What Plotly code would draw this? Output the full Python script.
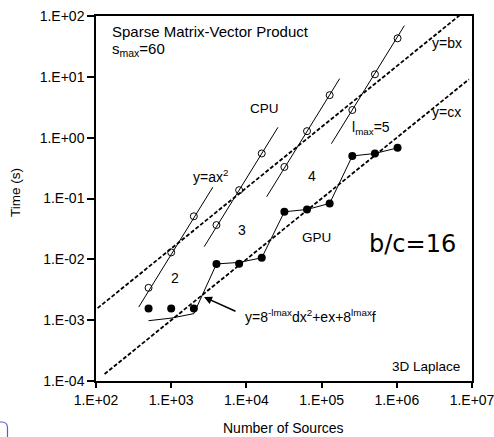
import plotly.graph_objects as go

# ---------------- data ----------------
n_sources = [500, 1000, 2000, 4000, 8000, 16000, 32000, 64000, 128000, 256000, 512000, 1024000]
cpu_time = [0.0034, 0.013, 0.051, 0.0366, 0.137, 0.55, 0.33, 1.28, 5.0, 2.85, 11.0, 43.0]
gpu_time = [0.00155, 0.00155, 0.00155, 0.0084, 0.0085, 0.0106, 0.0605, 0.066, 0.083, 0.50, 0.55, 0.68]
gpu_model = [0.00098, 0.00108, 0.00128, 0.0084, 0.0089, 0.0106, 0.0605, 0.066, 0.083, 0.50, 0.55, 0.68]

# CPU quadratic fits y = a x^2, one per lmax level
cpu_levels = [2, 3, 4, 5]
cpu_fit_a = [1.20e-8, 2.14e-9, 3.09e-10, 4.37e-11]
cpu_fit_xmin = [370, 2750, 18600, 135000]
cpu_fit_xmax = [3580, 26300, 174000, 1260000]

# linear reference lines y = b x and y = c x
b_coef = 1.5e-5
c_coef = 1.0e-6
bx_range = [105, 1.0e7]
cx_range = [130, 9.1e6]

x_tickvals = [1e2, 1e3, 1e4, 1e5, 1e6, 1e7]
x_ticktext = ["1.E+02", "1.E+03", "1.E+04", "1.E+05", "1.E+06", "1.E+07"]
y_tickvals = [1e-4, 1e-3, 1e-2, 1e-1, 1e0, 1e1, 1e2]
y_ticktext = ["1.E-04", "1.E-03", "1.E-02", "1.E-01", "1.E+00", "1.E+01", "1.E+02"]

# ---------------- layout geometry ----------------
W, H = 494, 437
ML, MR, MT, MB = 96, 22, 16, 56
PW, PH = W - ML - MR, H - MT - MB


def px(xp):
    return (xp - ML) / PW


def py(yp):
    return (H - MB - yp) / PH


FONT = "Liberation Sans, Arial, sans-serif"

fig = go.Figure()

dash_style = dict(color="black", width=1.8, dash="4px,2px")
fig.add_trace(go.Scatter(x=bx_range, y=[b_coef * v for v in bx_range], mode="lines",
                         line=dash_style, showlegend=False, hoverinfo="skip"))
fig.add_trace(go.Scatter(x=cx_range, y=[c_coef * v for v in cx_range], mode="lines",
                         line=dash_style, showlegend=False, hoverinfo="skip"))

for a, x0, x1 in zip(cpu_fit_a, cpu_fit_xmin, cpu_fit_xmax):
    fig.add_trace(go.Scatter(x=[x0, x1], y=[a * x0 ** 2, a * x1 ** 2], mode="lines",
                             line=dict(color="black", width=1), showlegend=False,
                             hoverinfo="skip"))

fig.add_trace(go.Scatter(x=n_sources, y=gpu_model, mode="lines",
                         line=dict(color="black", width=1), showlegend=False))

fig.add_trace(go.Scatter(x=n_sources, y=cpu_time, mode="markers",
                         marker=dict(symbol="circle-open", size=7, color="black",
                                     line=dict(width=1, color="black")),
                         showlegend=False))
fig.add_trace(go.Scatter(x=n_sources, y=gpu_time, mode="markers",
                         marker=dict(symbol="circle", size=8, color="black"),
                         showlegend=False))

anns = []


def txt(t, xp, yp, size=13, xanchor="left", font=FONT, angle=0):
    anns.append(dict(text=t, x=px(xp), y=py(yp), xref="paper", yref="paper",
                     xanchor=xanchor, yanchor="middle", showarrow=False,
                     textangle=angle,
                     font=dict(family=font, size=size, color="black")))


txt("Sparse Matrix-Vector Product", 110, 31, size=15)
txt("s<sub>max</sub>=60", 110, 50, size=15)
txt("CPU", 264, 109, size=13.5, xanchor="center")
txt("y=ax<sup>2</sup>", 191, 176, size=14)
txt("l<sub>max</sub>=5", 350, 128, size=14)
txt("4", 311.7, 176, size=14, xanchor="center")
txt("3", 242.3, 230, size=14, xanchor="center")
txt("2", 175, 277.5, size=14, xanchor="center")
txt("GPU", 316.7, 237, size=13.5, xanchor="center")
txt("b/c=16", 367, 244, size=24, font="DejaVu Sans, Verdana, sans-serif")
txt("y=8<sup>-lmax</sup>dx<sup>2</sup>+ex+8<sup>lmax</sup>f", 243, 316, size=14)
txt("3D Laplace", 462, 366, size=13.5, xanchor="right")
txt("y=bx", 430, 43, size=14)
txt("y=cx", 430, 112, size=14)
# axis titles
txt("Number of Sources", 283, 428, size=14, xanchor="center")
txt("Time (s)", 15, 193, size=13.5, xanchor="center", angle=-90)

anns.append(dict(text="", x=px(204), y=py(297), xref="paper", yref="paper",
                 ax=33, ay=15, axref="pixel", ayref="pixel", showarrow=True,
                 arrowhead=2, arrowsize=1, arrowwidth=1.6, arrowcolor="black"))

axis_common = dict(type="log", showgrid=False, zeroline=False, showline=True,
                   linecolor="black", linewidth=1.5, mirror=True, ticks="outside",
                   tickcolor="black", tickwidth=1.5, automargin=False,
                   ticklabeloverflow="allow",
                   tickfont=dict(family=FONT, size=14, color="black"))

fig.update_layout(
    width=W, height=H,
    margin=dict(l=ML, r=MR, t=MT, b=MB, pad=0, autoexpand=False),
    paper_bgcolor="white", plot_bgcolor="white",
    xaxis=dict(range=[2, 7.00001], tickvals=x_tickvals, ticktext=x_ticktext, ticklen=5,
               **axis_common),
    yaxis=dict(range=[-4, 2.00001], tickvals=y_tickvals, ticktext=y_ticktext, ticklen=7,
               **axis_common),
    annotations=anns,
    shapes=[dict(type="path", xref="paper", yref="paper", layer="above",
                 path=f"M {px(-2)} {py(422)} L {px(2)} {py(422)} Q {px(7.5)} {py(422)} {px(7.5)} {py(428)} L {px(7.5)} {py(440)}",
                 line=dict(color="#5a5ad2", width=1.2))],
)

fig.write_html("out.html")
